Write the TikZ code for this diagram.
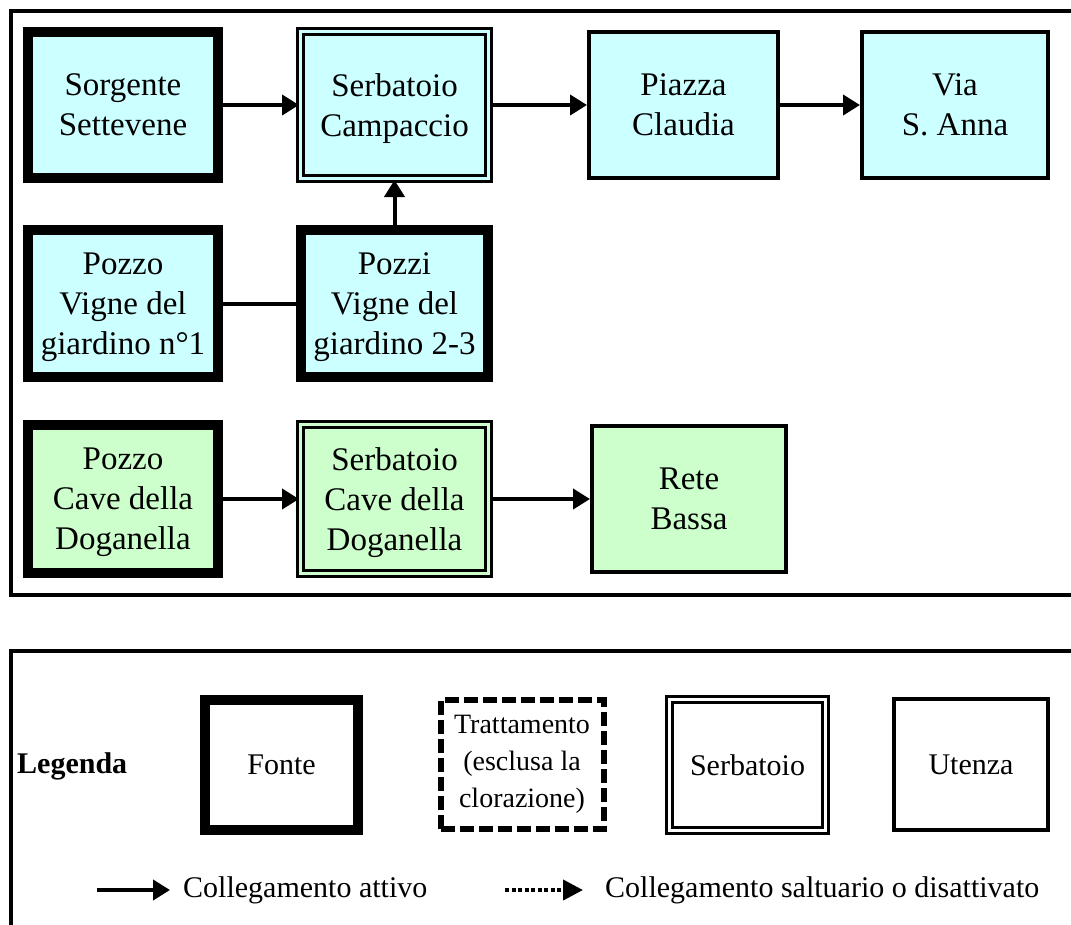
\documentclass[tikz,border=0pt]{standalone}
\usepackage{fontspec}
\setmainfont{Liberation Serif}
\usepackage{xcolor}
\usetikzlibrary{arrows.meta}
\usetikzlibrary{positioning}

\definecolor{acqua}{HTML}{CCFFFF}
\definecolor{verde}{HTML}{CCFFCC}

\begin{document}
\begin{tikzpicture}[
    x=1pt, y=-1pt,
    font=\fontsize{33}{40}\selectfont,
    fonte/.style={rectangle, draw, line width=10pt, fill=#1, align=center, text depth=0pt, inner sep=+0pt, minimum width=190pt, minimum height=146pt},
    fonte/.default=white,
    serbatoio/.style={rectangle, draw, line width=3pt, double=#1, double distance=3pt, fill=#1, align=center, text depth=0pt, inner sep=+0pt, minimum width=188pt, minimum height=147pt},
    serbatoio/.default=white,
    utenza/.style={rectangle, draw, line width=4pt, fill=#1, align=center, text depth=0pt, inner sep=+0pt, minimum width=190pt, minimum height=146pt},
    utenza/.default=white,
    trattamento/.style={rectangle, draw, line width=6pt, dash pattern=on 14pt off 5pt, align=center, inner sep=+0pt, minimum width=163pt, minimum height=129pt},
    conn/.style={line width=4pt, -{Triangle[length=17pt,width=20pt]}},
    saltuario/.style={line width=4pt, dash pattern=on 4pt off 2.5pt, -{Triangle[length=20pt,width=20pt]}},
    frame/.style={line width=4pt},
    legtext/.style={font=\fontsize{30}{36}\selectfont, anchor=west, inner sep=+0pt}
    ]
\useasboundingbox (0,0) rectangle (1071,924);

% schema della rete
\draw[frame] (11,11) rectangle (1090,595);

\node[fonte=acqua]     (sorgente)  at (123,105)   {Sorgente\\Settevene};
\node[serbatoio=acqua] (campaccio) at (394.5,105) {Serbatoio\\Campaccio};
\node[utenza=acqua, minimum width=189pt] (piazza) at (683.5,105) {Piazza\\Claudia};
\node[utenza=acqua, minimum width=186pt] (anna)   at (955,105)   {Via\\S. Anna};

\node[fonte=acqua, minimum height=147pt] (vigneuno) at (123,303.5)   {Pozzo\\Vigne del\\giardino n°1};
\node[fonte=acqua, minimum height=147pt, minimum width=187pt] (vignedue) at (394.5,303.5) {Pozzi\\Vigne del\\giardino 2-3};

\node[fonte=verde, minimum height=148pt] (pozzocave) at (123,499)   {Pozzo\\Cave della\\Doganella};
\node[serbatoio=verde, minimum height=149pt] (serbcave) at (394.5,499) {Serbatoio\\Cave della\\Doganella};
\node[utenza=verde, minimum width=194pt] (retebassa) at (689,499)   {Rete\\Bassa};

\draw[conn] (sorgente) -- (campaccio);
\draw[conn] (campaccio) -- (piazza);
\draw[conn] (piazza) -- (anna);
\draw[line width=4pt] (vigneuno) -- (vignedue);
\draw[conn] (vignedue) -- (campaccio);
\draw[conn] (pozzocave) -- (serbcave);
\draw[conn] (serbcave) -- (retebassa);

% legenda
\draw[frame] (11,651) rectangle (1090,940);

\node[legtext, font=\fontsize{30}{36}\selectfont\bfseries] (legenda) at (17,766) {Legenda};

\node[fonte, font=\fontsize{30}{36}\selectfont, minimum width=153pt, minimum height=130pt] (lfonte) at (281.5,765) {Fonte};
\node[trattamento, font=\fontsize{28}{37}\selectfont] (ltratt) at (522,764.5) {Trattamento\\(esclusa la\\clorazione)};
\node[serbatoio, font=\fontsize{30}{36}\selectfont, minimum width=156pt, minimum height=131pt] (lserb) at (747.5,765) {Serbatoio};
\node[utenza, font=\fontsize{30}{36}\selectfont, minimum width=154pt, minimum height=131pt] (luten) at (971,764.5) {Utenza};

\coordinate (attivoA) at (97,890);
\coordinate (attivoB) at (170,890);
\draw[conn] (attivoA) -- (attivoB);
\node[legtext] (attivo) at (183,890) {Collegamento attivo};

\coordinate (saltA) at (505,890);
\coordinate (saltB) at (583,890);
\draw[saltuario] (saltA) -- (saltB);
\node[legtext] (salt) at (605,890) {Collegamento saltuario o disattivato};

\end{tikzpicture}
\end{document}
